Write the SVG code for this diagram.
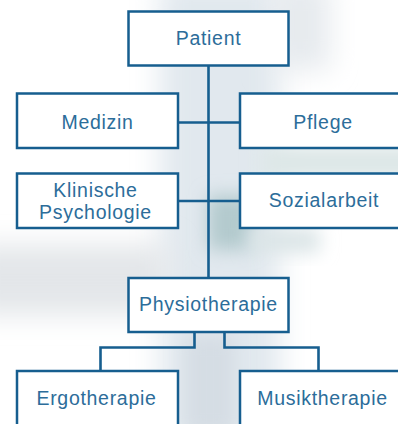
<svg xmlns="http://www.w3.org/2000/svg" width="398" height="424" viewBox="0 0 398 424">
<defs>
<filter id="blur" x="-50%" y="-50%" width="200%" height="200%"><feGaussianBlur stdDeviation="14"/></filter>
<filter id="blur2" x="-50%" y="-50%" width="200%" height="200%"><feGaussianBlur stdDeviation="9"/></filter>
<style>
.box{fill:#ffffff;stroke:#165e8f;stroke-width:2.5}
.lbl{font-family:"Liberation Sans",Arial,sans-serif;font-size:19.5px;letter-spacing:0.7px;fill:#2c6d9a;text-anchor:middle}
.con{fill:none;stroke:#165e8f;stroke-width:2.6}
</style>
</defs>
<rect width="398" height="424" fill="#ffffff"/>
<g id="background">
<rect x="160" y="-20" width="120" height="470" fill="#e1e8ee" filter="url(#blur)"/>
<rect x="270" y="-20" width="60" height="90" fill="#e6eaee" filter="url(#blur)"/>
<rect x="-30" y="245" width="200" height="70" fill="#e3e6e9" filter="url(#blur)"/>
<rect x="260" y="145" width="160" height="35" fill="#dde7e7" filter="url(#blur2)"/>
<rect x="208" y="195" width="45" height="55" fill="#b3cace" filter="url(#blur2)"/>
<rect x="250" y="228" width="70" height="25" fill="#dbe5e7" filter="url(#blur2)"/>
<rect x="185" y="335" width="50" height="100" fill="#d5dde4" filter="url(#blur2)"/>
</g>
<g id="connectors">
<line class="con" x1="208.5" y1="66" x2="208.5" y2="278"/>
<line class="con" x1="178" y1="122.5" x2="240" y2="122.5"/>
<line class="con" x1="178" y1="201" x2="240" y2="201"/>
<polyline class="con" points="194.5,332 194.5,347.5 100.5,347.5 100.5,371"/>
<polyline class="con" points="224.5,332 224.5,347.5 318.5,347.5 318.5,371"/>
</g>
<g id="patient"><rect class="box" x="128.5" y="11.5" width="160" height="54"/><text class="lbl" x="208.5" y="45">Patient</text></g>
<g id="medizin"><rect class="box" x="17" y="93.5" width="161" height="54.5"/><text class="lbl" x="97.5" y="128.5">Medizin</text></g>
<g id="pflege"><rect class="box" x="240" y="93.5" width="165" height="54.5"/><text class="lbl" x="323" y="128.5">Pflege</text></g>
<g id="klinische-psychologie"><rect class="box" x="17" y="173.5" width="161" height="54.5"/><text class="lbl" x="95.5" y="196.5">Klinische</text><text class="lbl" x="95.5" y="219">Psychologie</text></g>
<g id="sozialarbeit"><rect class="box" x="240" y="173.5" width="165" height="54.5"/><text class="lbl" x="324" y="207">Sozialarbeit</text></g>
<g id="physiotherapie"><rect class="box" x="128.5" y="278" width="160" height="54"/><text class="lbl" x="208.5" y="311">Physiotherapie</text></g>
<g id="ergotherapie"><rect class="box" x="17" y="371" width="161" height="70"/><text class="lbl" x="96.5" y="405">Ergotherapie</text></g>
<g id="musiktherapie"><rect class="box" x="240" y="371" width="165" height="70"/><text class="lbl" x="322.5" y="405">Musiktherapie</text></g>
</svg>
